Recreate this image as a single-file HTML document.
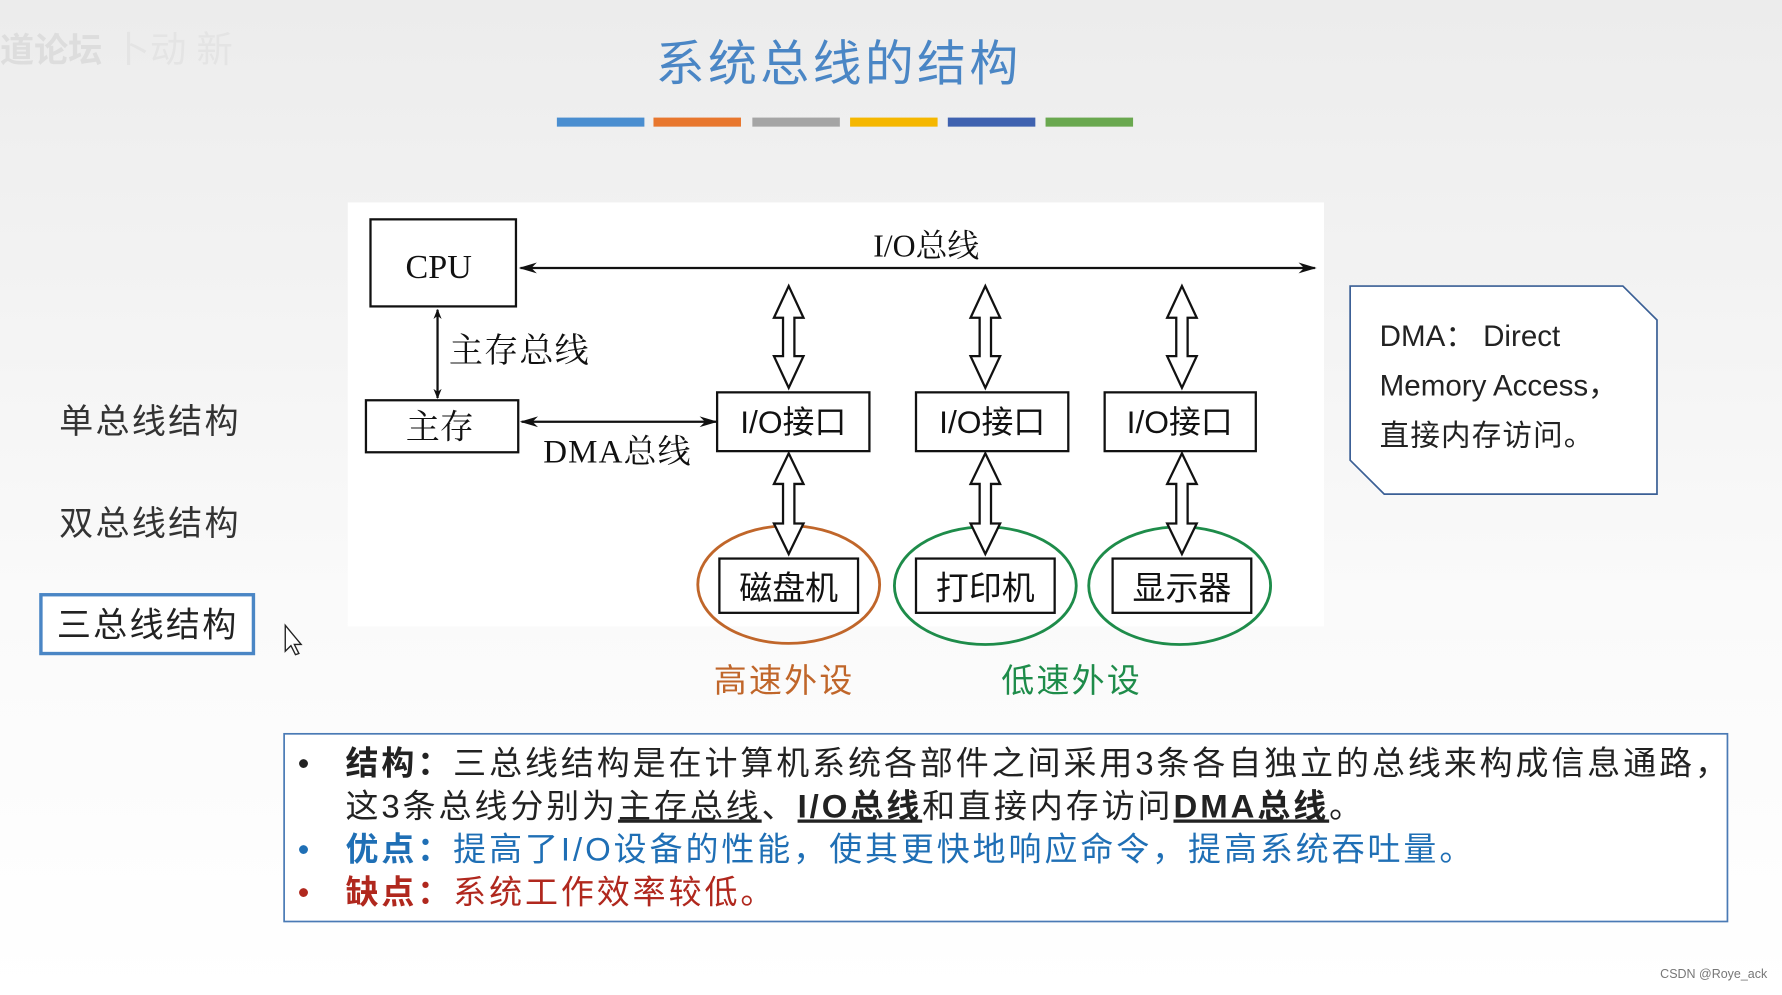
<!DOCTYPE html>
<html><head><meta charset="utf-8"><style>
html,body{margin:0;padding:0;width:1782px;height:995px;overflow:hidden;background:#fff}
svg{display:block}
text{font-family:"Liberation Sans","Noto Sans CJK SC",sans-serif}
.serif{font-family:"Liberation Serif","Noto Serif CJK SC",serif}
</style></head><body>
<svg width="1782" height="995" viewBox="0 0 1568 880" preserveAspectRatio="none" xmlns="http://www.w3.org/2000/svg">
<defs>
<linearGradient id="bg" x1="0" y1="0" x2="0" y2="1">
<stop offset="0" stop-color="#ececec"/><stop offset="0.6" stop-color="#fafafa"/><stop offset="1" stop-color="#ffffff"/>
</linearGradient>
<marker id="ah" viewBox="0 0 10 10" refX="9" refY="5" markerWidth="9" markerHeight="9" orient="auto-start-reverse" markerUnits="userSpaceOnUse">
<path d="M0,1 L10,5 L0,9 L3,5 Z" fill="#111"/></marker>
<marker id="ahb" viewBox="0 0 10 10" refX="9" refY="5" markerWidth="24" markerHeight="16" orient="auto-start-reverse" markerUnits="userSpaceOnUse">
<path d="M0,2 L10,5 L0,8 L3,5 Z" fill="#111"/></marker>
</defs>
<rect width="1568" height="880" fill="url(#bg)"/>
<text x="0" y="55" font-size="30" fill="#ddd" font-weight="bold">道论坛 </text>
<text x="100" y="55" font-size="32" fill="#e4e4e4">卜动 新</text>
<text x="738" y="71" font-size="43" fill="#4a86c5" text-anchor="middle" letter-spacing="3">系统总线的结构</text>
<rect x="490" y="104" width="77" height="8" fill="#4a8ed0"/>
<rect x="575" y="104" width="77" height="8" fill="#e8772e"/>
<rect x="662" y="104" width="77" height="8" fill="#a5a5a5"/>
<rect x="748" y="104" width="77" height="8" fill="#f5b700"/>
<rect x="834" y="104" width="77" height="8" fill="#3f62b0"/>
<rect x="920" y="104" width="77" height="8" fill="#6aa84f"/>

<rect x="306" y="179" width="859" height="375" fill="#fff"/>
<g stroke="#111" stroke-width="2" fill="#fff">
<rect x="326" y="194" width="128" height="77"/>
<rect x="322" y="354" width="134" height="46"/>
<rect x="631" y="347" width="134" height="52"/>
<rect x="806" y="347" width="134" height="52"/>
<rect x="972" y="347" width="133" height="52"/>
</g>
<text x="386" y="246" class="serif" font-size="30" text-anchor="middle" fill="#111">CPU</text>
<text x="387" y="388" font-size="30" text-anchor="middle" fill="#111" class="serif">主存</text>
<text x="698" y="383" font-size="28" text-anchor="middle" fill="#111">I/O接口</text>
<text x="873" y="383" font-size="28" text-anchor="middle" fill="#111">I/O接口</text>
<text x="1038" y="383" font-size="28" text-anchor="middle" fill="#111">I/O接口</text>
<line x1="458" y1="237" x2="1157" y2="237" stroke="#111" stroke-width="2" marker-start="url(#ahb)" marker-end="url(#ahb)"/>
<text x="815" y="227" class="serif" font-size="28" text-anchor="middle" fill="#111">I/O总线</text>
<line x1="385" y1="274" x2="385" y2="352" stroke="#111" stroke-width="2" marker-start="url(#ah)" marker-end="url(#ah)"/>
<text x="395" y="320" class="serif" font-size="30" fill="#111" letter-spacing="1">主存总线</text>
<line x1="459" y1="373" x2="630" y2="373" stroke="#111" stroke-width="2" marker-start="url(#ahb)" marker-end="url(#ahb)"/>
<text x="478" y="409" class="serif" font-size="29" fill="#111" letter-spacing="1">DMA总线</text>
<g fill="#fff" stroke="#111" stroke-width="2">
<polygon points="694,253 707,281 699,281 699,315 707,315 694,343 681,315 689,315 689,281 681,281"/>
<polygon points="867,253 880,281 872,281 872,315 880,315 867,343 854,315 862,315 862,281 854,281"/>
<polygon points="1040,253 1053,281 1045,281 1045,315 1053,315 1040,343 1027,315 1035,315 1035,281 1027,281"/>
</g>
<ellipse cx="694" cy="517" rx="80" ry="52" fill="none" stroke="#c0662a" stroke-width="2.5"/>
<ellipse cx="867" cy="518" rx="80" ry="52" fill="none" stroke="#1e8c4a" stroke-width="2.5"/>
<ellipse cx="1038" cy="518" rx="80" ry="52" fill="none" stroke="#1e8c4a" stroke-width="2.5"/>
<g stroke="#111" stroke-width="2" fill="#fff">
<rect x="633" y="494" width="122" height="48"/>
<rect x="806" y="494" width="122" height="48"/>
<rect x="979" y="494" width="122" height="48"/>
</g>
<g fill="#fff" stroke="#111" stroke-width="2">
<polygon points="694,401 707,428 699,428 699,463 707,463 694,490 681,463 689,463 689,428 681,428"/>
<polygon points="867,401 880,428 872,428 872,463 880,463 867,490 854,463 862,463 862,428 854,428"/>
<polygon points="1040,401 1053,428 1045,428 1045,463 1053,463 1040,490 1027,463 1035,463 1035,428 1027,428"/>
</g>
<text x="694" y="530" font-size="29" text-anchor="middle" fill="#111">磁盘机</text>
<text x="867" y="530" font-size="29" text-anchor="middle" fill="#111">打印机</text>
<text x="1040" y="530" font-size="29" text-anchor="middle" fill="#111">显示器</text>
<text x="690" y="612" font-size="29" text-anchor="middle" fill="#c0662a" letter-spacing="2">高速外设</text>
<text x="943" y="612" font-size="29" text-anchor="middle" fill="#1e8c4a" letter-spacing="2">低速外设</text>

<text x="52" y="383" font-size="30" fill="#333" letter-spacing="2">单总线结构</text>
<text x="52" y="473" font-size="30" fill="#333" letter-spacing="2">双总线结构</text>
<rect x="36" y="526" width="187" height="52" fill="#fff" stroke="#4a86c5" stroke-width="3"/>
<text x="50" y="563" font-size="30" fill="#222" letter-spacing="2">三总线结构</text>
<path d="M251,553 L251,576 L256,571 L260,579 L263,578 L259,570 L265,570 Z" fill="#fff" stroke="#222" stroke-width="1.2"/>

<polygon points="1188,253 1428,253 1458,283 1458,437 1218,437 1188,407" fill="#fff" stroke="#3a5f95" stroke-width="1.5"/>
<text x="1214" y="306" font-size="26" fill="#222">DMA：  Direct</text>
<text x="1214" y="350" font-size="26" fill="#222">Memory Access，</text>
<text x="1214" y="394" font-size="26" fill="#222" letter-spacing="1">直接内存访问。</text>

<rect x="250" y="649" width="1270" height="166" fill="#fff" stroke="#4a7ab5" stroke-width="1.5"/>
<text font-size="29" fill="#222" letter-spacing="2.6">
<tspan x="262" y="685">•</tspan><tspan x="304" y="685" font-weight="bold">结构：</tspan><tspan>三总线结构是在计算机系统各部件之间采用3条各自独立的总线来构成信息通路，</tspan>
<tspan x="304" y="723">这3条总线分别为</tspan><tspan text-decoration="underline">主存总线</tspan><tspan>、</tspan><tspan font-weight="bold" text-decoration="underline">I/O总线</tspan><tspan>和直接内存访问</tspan><tspan font-weight="bold" text-decoration="underline">DMA总线</tspan><tspan>。</tspan>
</text>
<text font-size="29" fill="#1f6fb5" letter-spacing="2.6"><tspan x="262" y="761">•</tspan><tspan x="304" y="761" font-weight="bold">优点：</tspan><tspan>提高了I/O设备的性能，使其更快地响应命令，提高系统吞吐量。</tspan></text>
<text font-size="29" fill="#b0281e" letter-spacing="2.6"><tspan x="262" y="799">•</tspan><tspan x="304" y="799" font-weight="bold">缺点：</tspan><tspan>系统工作效率较低。</tspan></text>
<text x="1555" y="865" font-size="11" fill="#777" text-anchor="end">CSDN @Roye_ack</text>
</svg>
</body></html>
